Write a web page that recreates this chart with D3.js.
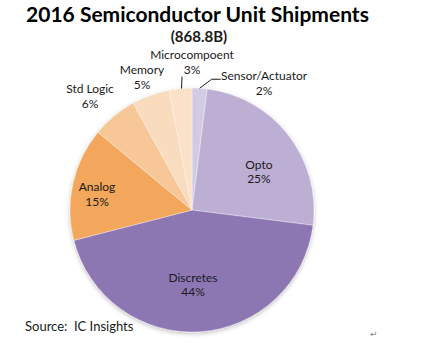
<!DOCTYPE html>
<html><head><meta charset="utf-8">
<script src="https://cdn.jsdelivr.net/npm/d3@7"></script>
<style>body{margin:0;background:#fff}svg{display:block}text{white-space:pre}</style>
</head><body>
<svg id="c" width="425" height="343"></svg>
<script>
const categories = ["Sensor/Actuator","Opto","Discretes","Analog","Std Logic","Memory","Microcompoent"];
const shares = [2,25,44,15,6,5,3];
const labels = ["2%","25%","44%","15%","6%","5%","3%"];
const sliceColors = ["#d3cbe3","#bdaed4","#8d77b3","#f2a75c","#f7c797","#f9dbbe","#fbe1c8"];
const titleText = "2016 Semiconductor Unit Shipments";
const subtitleText = "(868.8B)";
const sourceText = "Source:  IC Insights";

// layout (polar position of each label's first line: [angle deg, radius])
const labelPolar = [[29.0,148.6],[58.5,78.5],[179.2,72],[281.3,96.9],[318.9,155.2],[339.8,144.9],[0,151]];
const font = "Lato, 'Open Sans', sans-serif";

const svg = d3.select("#c");
const cx = 192, cy = 210, R = 122;

const defs = svg.append("defs");
const f = defs.append("filter").attr("id","sh").attr("x","-20%").attr("y","-20%").attr("width","140%").attr("height","140%");
f.append("feDropShadow").attr("dx",0).attr("dy",1.5).attr("stdDeviation",2).attr("flood-color","#000").attr("flood-opacity",0.25);

const data = categories.map((c,i)=>({cat:c, v:shares[i], lab:labels[i], col:sliceColors[i], i}));
const pie = d3.pie().value(d=>d.v).sort(null);
const arcs = pie(data);
const arc = d3.arc().innerRadius(0).outerRadius(R);

const g = svg.append("g").attr("transform",`translate(${cx},${cy})`);
g.append("g").attr("filter","url(#sh)").selectAll("path").data(arcs).join("path")
  .attr("d",arc).attr("fill",d=>d.data.col)
  .attr("stroke","rgba(255,255,255,0.45)").attr("stroke-width",0.8);

const pt = (angDeg, r) => { const a = angDeg*Math.PI/180; return [r*Math.sin(a), -r*Math.cos(a)]; };

// labels
const lg = g.append("g").attr("font-family",font).attr("font-size",12).attr("fill","#1a1a1a").attr("text-anchor","middle");
arcs.forEach((d,i)=>{
  const [x,y] = pt(labelPolar[i][0], labelPolar[i][1]);
  const t = lg.append("text").attr("x",x).attr("y",y);
  t.append("tspan").attr("x",x).attr("y",y).text(d.data.cat);
  t.append("tspan").attr("x",x).attr("y",y+14.5).text(d.data.lab);
});

// leader lines for small outer slices
const midDeg = d => (d.startAngle+d.endAngle)/2*180/Math.PI;
const sensor = arcs[0], micro = arcs[6];
{
  const [x0,y0] = pt(midDeg(sensor), R);
  g.append("polyline").attr("points",`${x0},${y0} ${x0+12},${y0-9} ${x0+21},${y0-9}`)
   .attr("fill","none").attr("stroke","#1a1a1a").attr("stroke-width",1);
}
{
  const [x0,y0] = pt(midDeg(micro), R);
  g.append("line").attr("x1",x0+1).attr("y1",y0).attr("x2",x0+1.5).attr("y2",y0-12)
   .attr("stroke","#1a1a1a").attr("stroke-width",1);
}

svg.append("text").attr("x",197.5).attr("y",22).attr("text-anchor","middle")
  .attr("font-family",font).attr("font-weight","bold").attr("font-size",21).attr("fill","#000").text(titleText);
svg.append("text").attr("x",199).attr("y",42).attr("text-anchor","middle")
  .attr("font-family",font).attr("font-weight","bold").attr("font-size",15).attr("fill","#1a1a1a").text(subtitleText);
svg.append("text").attr("x",25).attr("y",331).attr("font-family",font).attr("font-size",13).attr("fill","#1a1a1a").text(sourceText);
svg.append("text").attr("x",370).attr("y",337).attr("font-family","DejaVu Sans, sans-serif").attr("font-size",9).attr("fill","#888").text("↵");
</script>
</body></html>
